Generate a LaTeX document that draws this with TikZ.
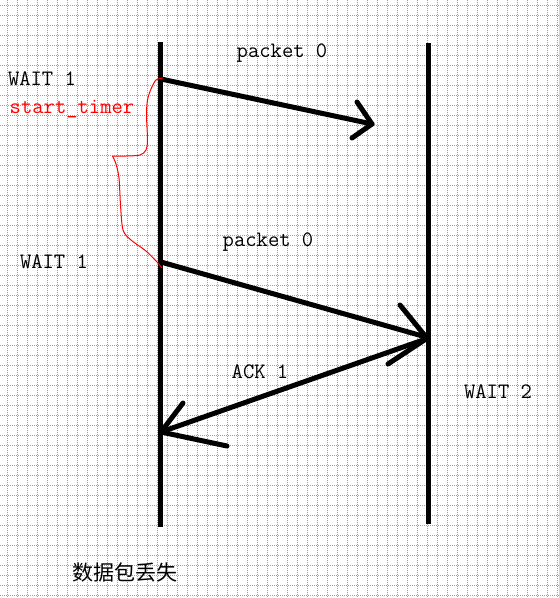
\documentclass[tikz,border=0pt]{standalone}
\usepackage{fontspec}
\newfontfamily\cjk{Noto Sans CJK SC}
\begin{document}
\begin{tikzpicture}[x=1pt,y=-1pt,
  gridline/.style={gray!75, line width=1pt, dash pattern=on 1pt off 1pt},
  lifeline/.style={black, line width=5pt},
  msg/.style={black, line width=5pt, line cap=round, line join=round},
  lbl/.style={inner sep=0pt, font=\ttfamily\fontsize{22}{24}\selectfont},
  redlbl/.style={lbl, text=red},
  cjklbl/.style={inner sep=0pt, font=\cjk\fontsize{21}{22}\selectfont}]
\useasboundingbox (0,0) rectangle (559,598);
\fill[white] (0,0) rectangle (559,598);
\foreach \x in {7,17,...,557} \draw[gridline] (\x,0) -- (\x,598);
\foreach \y in {5,15,...,595} \draw[gridline] (0,\y) -- (559,\y);
% lifelines
\coordinate (Ltop) at (160,42);
\coordinate (Lbot) at (160,527);
\coordinate (Rtop) at (428,43);
\coordinate (Rbot) at (428,524);
\draw[lifeline] (Ltop) -- (Lbot);
\draw[lifeline] (Rtop) -- (Rbot);
% message 1 (lost)
\coordinate (m1s) at (161,79);
\coordinate (m1e) at (372,124);
\coordinate (m1b1) at (357,102);
\coordinate (m1b2) at (352,138);
\draw[msg] (m1s) -- (m1e);
\draw[msg] (m1b1) -- (m1e) -- (m1b2);
% message 2
\coordinate (m2s) at (161,262);
\coordinate (m2e) at (426,337);
\coordinate (m2b1) at (400,305);
\draw[msg] (m2s) -- (m2e);
\draw[msg] (m2b1) -- (m2e);
% ACK
\coordinate (a1s) at (426,339);
\coordinate (a1b) at (388,364);
\coordinate (a1e) at (161,432);
\coordinate (a1b1) at (183,403);
\coordinate (a1b2) at (227,446);
\draw[msg] (a1s) -- (a1e);
\draw[msg] (a1b) -- (a1s);
\draw[msg] (a1b1) -- (a1e) -- (a1b2);
% red timer curve
\draw[red, line width=1pt] plot[smooth, tension=0.5] coordinates {(163,78) (156,80) (151,89) (147.5,100) (146.5,115) (147.5,140) (146,150) (140,155) (126,156) (112.5,156)};
\draw[red, line width=1pt] plot[smooth, tension=0.5] coordinates {(112.5,156) (116,164) (119,178) (120.5,205) (123,230) (131,240) (146,251) (157,262) (162,268)};
% labels
\node[lbl] (p0a) at (282,53) {packet 0};
\node[lbl] (w1a) at (42,79) {WAIT 1};
\node[redlbl] (st) at (72,109) {start\_timer};
\node[lbl] (p0b) at (268,242) {packet 0};
\node[lbl] (w1b) at (54,262) {WAIT 1};
\node[lbl] (ack) at (260,372) {ACK 1};
\node[lbl] (w2) at (498,392) {WAIT 2};
\node[cjklbl] (loss) at (125,572) {数据包丢失};
\end{tikzpicture}
\end{document}
